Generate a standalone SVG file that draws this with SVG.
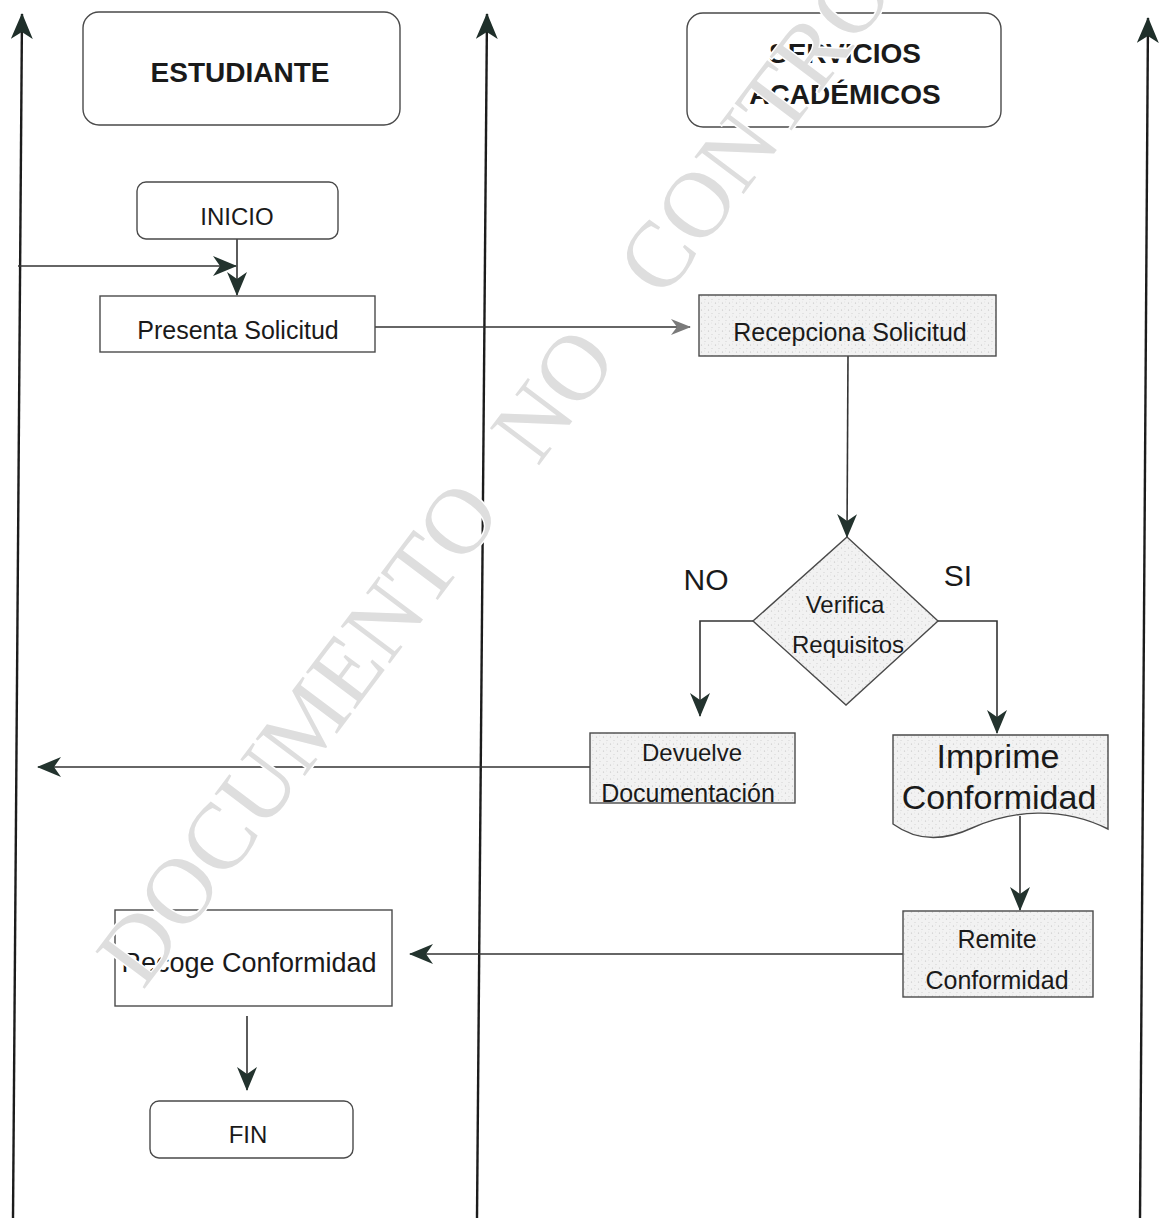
<svg xmlns="http://www.w3.org/2000/svg" width="1159" height="1218" viewBox="0 0 1159 1218">
  <defs>
    <style>
      .lane { stroke: #1c1c1c; stroke-width: 2.4; fill: none; }
      .conn { stroke: #333; stroke-width: 1.6; fill: none; }
      .box { stroke: #4a4a4a; stroke-width: 1.4; fill: #ffffff; }
      .shaded { stroke: #4a4a4a; stroke-width: 1.4; fill: url(#grain); }
      .lbl { font-family: "Liberation Sans", Arial, sans-serif; fill: #1a1a1a; text-anchor: middle; }
      .head { font-weight: bold; font-size: 28px; }
      .wm { font-family: "Liberation Serif", "Times New Roman", serif; font-size: 94px; fill: #dedede; stroke: #ffffff; stroke-width: 3; paint-order: stroke; }
    </style>
    <pattern id="grain" width="7" height="7" patternUnits="userSpaceOnUse">
      <rect width="7" height="7" fill="#f2f2f2"/>
      <circle cx="1.5" cy="2" r="0.6" fill="#bdbdbd"/>
      <circle cx="5" cy="5.5" r="0.5" fill="#c9c9c9"/>
      <circle cx="4.5" cy="1" r="0.4" fill="#d2d2d2"/>
    </pattern>
    <marker id="ah" viewBox="0 0 24 20" refX="23" refY="10" markerWidth="24" markerHeight="20" orient="auto" markerUnits="userSpaceOnUse">
      <path d="M0,0 L24,10 L0,20 L7,10 Z" fill="#23332e"/>
    </marker>
    <marker id="ahLight" viewBox="0 0 20 16" refX="19" refY="8" markerWidth="20" markerHeight="16" orient="auto" markerUnits="userSpaceOnUse">
      <path d="M0,0 L20,8 L0,16 L6,8 Z" fill="#7a7a7a"/>
    </marker>
    <marker id="laneHead" viewBox="0 0 26 22" refX="25" refY="11" markerWidth="26" markerHeight="22" orient="auto" markerUnits="userSpaceOnUse">
      <path d="M0,0 L26,11 L0,22 L7,11 Z" fill="#1f2f2a"/>
    </marker>
  </defs>

  <rect width="1159" height="1218" fill="#ffffff"/>

  <!-- swimlane dividers -->
  <g id="lanes">
    <line class="lane" x1="13" y1="1218" x2="22" y2="14" marker-end="url(#laneHead)"/>
    <line class="lane" x1="477" y1="1218" x2="487" y2="14" marker-end="url(#laneHead)"/>
    <line class="lane" x1="1140" y1="1218" x2="1148" y2="18" marker-end="url(#laneHead)"/>
  </g>

  <!-- connectors -->
  <g id="connectors">
    <line class="conn" x1="237" y1="239" x2="237" y2="295" marker-end="url(#ah)"/>
    <line class="conn" x1="18" y1="266" x2="236" y2="266" marker-end="url(#ah)"/>
    <line class="conn" x1="375" y1="327" x2="690" y2="327" marker-end="url(#ahLight)"/>
    <line class="conn" x1="848" y1="356" x2="847" y2="537" marker-end="url(#ah)"/>
    <polyline class="conn" points="753,621 700,621 700,716" marker-end="url(#ah)"/>
    <polyline class="conn" points="938,621 997,621 997,733" marker-end="url(#ah)"/>
    <line class="conn" x1="590" y1="767" x2="38" y2="767" marker-end="url(#ah)"/>
    <line class="conn" x1="1020" y1="816" x2="1020" y2="910" marker-end="url(#ah)"/>
    <line class="conn" x1="903" y1="954" x2="410" y2="954" marker-end="url(#ah)"/>
    <line class="conn" x1="247" y1="1016" x2="247" y2="1090" marker-end="url(#ah)"/>
  </g>

  <g id="lane-estudiante">
    <rect class="box" x="83" y="12" width="317" height="113" rx="16"/>
    <text class="lbl head" x="240" y="82">ESTUDIANTE</text>
  </g>

  <g id="lane-servicios">
    <rect class="box" x="687" y="13" width="314" height="114" rx="16"/>
    <text class="lbl head" x="845" y="63">SERVICIOS</text>
    <text class="lbl head" x="845" y="104">ACADÉMICOS</text>
  </g>

  <g id="inicio">
    <rect class="box" x="137" y="182" width="201" height="57" rx="9"/>
    <text class="lbl" x="237" y="225" font-size="24">INICIO</text>
  </g>

  <g id="presenta-solicitud">
    <rect class="box" x="100" y="296" width="275" height="56"/>
    <text class="lbl" x="238" y="339" font-size="25">Presenta Solicitud</text>
  </g>

  <g id="recepciona-solicitud">
    <rect class="shaded" x="699" y="295" width="297" height="61"/>
    <text class="lbl" x="850" y="341" font-size="25">Recepciona Solicitud</text>
  </g>

  <g id="verifica-requisitos">
    <polygon class="shaded" points="847,537 938,621 846,705 753,621"/>
    <text class="lbl" x="845" y="613" font-size="24">Verifica</text>
    <text class="lbl" x="848" y="653" font-size="24">Requisitos</text>
  </g>

  <g id="branch-labels">
    <text class="lbl" x="706" y="590" font-size="30">NO</text>
    <text class="lbl" x="958" y="586" font-size="30">SI</text>
  </g>

  <g id="devuelve-documentacion">
    <rect class="shaded" x="590" y="733" width="205" height="70"/>
    <text class="lbl" x="692" y="761" font-size="24">Devuelve</text>
    <text class="lbl" x="688" y="802" font-size="25">Documentación</text>
  </g>

  <g id="imprime-conformidad">
    <path class="shaded" d="M893,735 H1108 V829 C1062,806 1012,810 972,828 C942,842 915,840 893,824 Z"/>
    <text class="lbl" x="998" y="768" font-size="34">Imprime</text>
    <text class="lbl" x="999" y="809" font-size="34">Conformidad</text>
  </g>

  <g id="remite-conformidad">
    <rect class="shaded" x="903" y="911" width="190" height="86"/>
    <text class="lbl" x="997" y="948" font-size="25">Remite</text>
    <text class="lbl" x="997" y="989" font-size="25">Conformidad</text>
  </g>

  <g id="recoge-conformidad">
    <rect class="box" x="115" y="910" width="277" height="96"/>
    <text class="lbl" x="249" y="972" font-size="27">Recoge Conformidad</text>
  </g>

  <g id="fin">
    <rect class="box" x="150" y="1101" width="203" height="57" rx="9"/>
    <text class="lbl" x="248" y="1143" font-size="24">FIN</text>
  </g>

  <!-- diagonal stamp across the sheet -->
  <g id="watermark">
    <text class="wm" transform="translate(143,991) rotate(-53)">DOCUMENTO<tspan dx="33"> NO</tspan><tspan dx="50"> CONTROLADO</tspan></text>
  </g>
</svg>
